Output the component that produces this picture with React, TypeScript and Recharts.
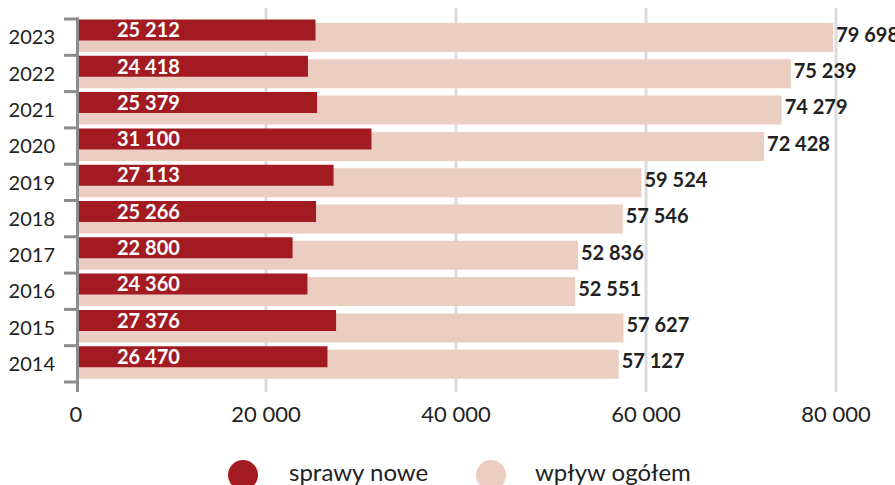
import React from 'react';
import { BarChart, Bar, XAxis, YAxis, CartesianGrid, LabelList, Legend } from 'recharts';

const years = ['2023', '2022', '2021', '2020', '2019', '2018', '2017', '2016', '2015', '2014'];
const sprawyNowe = [25212, 24418, 25379, 31100, 27113, 25266, 22800, 24360, 27376, 26470];
const wplywOgolem = [79698, 75239, 74279, 72428, 59524, 57546, 52836, 52551, 57627, 57127];
const xTicks = [0, 20000, 40000, 60000, 80000];
const gridValues = [20000, 40000, 60000, 80000];
const seriesNames = ['sprawy nowe', 'wpływ ogółem'];

const DARK = '#a31b22';
const LIGHT = '#ebcdc1';
const AXIS = '#8c8c8c';
const GRID = '#dcdcdc';
const TEXT = '#222222';
const FONT = 'Lato, "Open Sans", sans-serif';

const MARGIN_LEFT = 16;
const YAXIS_WIDTH = 60;
const AXIS_X = MARGIN_LEFT + YAXIS_WIDTH;

const data = years.map((y, i) => ({ year: y, nowe: sprawyNowe[i], ogolem: wplywOgolem[i] }));

const fmt = (v: number) => String(v).replace(/\B(?=(\d{3})+(?!\d))/g, ' ');

const YTick = (props: any) => {
  const { y, payload, index, visibleTicksCount } = props;
  const x = AXIS_X;
  const half = payload && typeof payload.offset === 'number' && payload.offset > 0 ? payload.offset : 18.15;
  const isLast = index === (visibleTicksCount ?? years.length) - 1;
  return (
    <g>
      <line x1={x + 1.5} x2={x + 1.5} y1={y - half - 1.5} y2={isLast ? y + half + 10 : y + half} stroke={AXIS} strokeWidth={3} />
      <line x1={x - 12} x2={x + 1.5} y1={y - half} y2={y - half} stroke={AXIS} strokeWidth={3} />
      {isLast && <line x1={x - 12} x2={x + 1.5} y1={y + half} y2={y + half} stroke={AXIS} strokeWidth={3} />}
      <text x={x - 21} y={y} dy="0.36em" textAnchor="end" fontSize={20} fontFamily={FONT} fill={TEXT}>
        {payload.value}
      </text>
    </g>
  );
};

const box = (props: any) => {
  const vb = props.viewBox || {};
  return {
    x: Number(vb.x ?? props.x),
    y: Number(vb.y ?? props.y),
    width: Number(vb.width ?? props.width),
    height: Number(vb.height ?? props.height),
  };
};

const DarkLabel = (props: any) => {
  const { y, height } = box(props);
  return (
    <text x={AXIS_X + 41} y={y + height / 2} dy="0.36em" textAnchor="start" fontSize={20} fontWeight={700} fontFamily={FONT} fill="#ffffff">
      {fmt(props.value)}
    </text>
  );
};

const LightLabel = (props: any) => {
  const { x, y, width, height } = box(props);
  return (
    <text x={x + width + 3} y={y + height / 2 - 3} dy="0.36em" textAnchor="start" fontSize={20} fontWeight={700} fontFamily={FONT} fill={TEXT}>
      {fmt(props.value)}
    </text>
  );
};

const LegendContent = () => {
  const items = [
    { name: seriesNames[0], color: DARK, cx: 243, tx: 289 },
    { name: seriesNames[1], color: LIGHT, cx: 491, tx: 535 },
  ];
  return (
    <div style={{ position: 'relative', width: 895, height: 48 }}>
      {items.map((it) => (
        <React.Fragment key={it.name}>
          <div style={{ position: 'absolute', left: it.cx - 15, top: 23, width: 30, height: 30, borderRadius: 15, background: it.color }} />
          <div style={{ position: 'absolute', left: it.tx, top: 20, fontSize: 24, lineHeight: '30px', fontFamily: FONT, color: TEXT, whiteSpace: 'nowrap' }}>
            {it.name}
          </div>
        </React.Fragment>
      ))}
    </div>
  );
};

export default function App() {
  return (
    <div style={{ position: 'absolute', left: 0, top: 0, width: 895, height: 485, background: '#ffffff', overflow: 'hidden' }}>
      <BarChart
        width={895}
        height={485}
        data={data}
        layout="vertical"
        margin={{ top: 8, right: 59, bottom: 0, left: MARGIN_LEFT }}
      >
        <CartesianGrid horizontal={false} vertical verticalValues={gridValues} stroke={GRID} strokeWidth={3} />
        <XAxis
          type="number"
          domain={[0, 80000]}
          ticks={xTicks}
          tickFormatter={fmt}
          axisLine={false}
          tickLine={false}
          tickSize={0}
          tickMargin={14}
          height={45}
          interval={0}
          tick={{ fontSize: 22, fontFamily: FONT, fill: TEXT }}
        />
        <YAxis
          yAxisId="main"
          type="category"
          dataKey="year"
          width={YAXIS_WIDTH}
          padding={{ top: 11, bottom: 10 }}
          axisLine={false}
          tickLine={false}
          tickSize={0}
          tickMargin={0}
          interval={0}
          tick={<YTick />}
        />
        <YAxis yAxisId="dark" type="category" dataKey="year" hide padding={{ top: 3.5, bottom: 17.5 }} />
        <Bar dataKey="ogolem" name={seriesNames[1]} yAxisId="main" fill={LIGHT} barSize={29} isAnimationActive={false}>
          <LabelList dataKey="ogolem" content={<LightLabel />} />
        </Bar>
        <Bar dataKey="nowe" name={seriesNames[0]} yAxisId="dark" fill={DARK} barSize={21} isAnimationActive={false}>
          <LabelList dataKey="nowe" content={<DarkLabel />} />
        </Bar>
        <Legend verticalAlign="bottom" content={<LegendContent />} wrapperStyle={{ left: 0, width: 895, bottom: 0 }} />
      </BarChart>
    </div>
  );
}
